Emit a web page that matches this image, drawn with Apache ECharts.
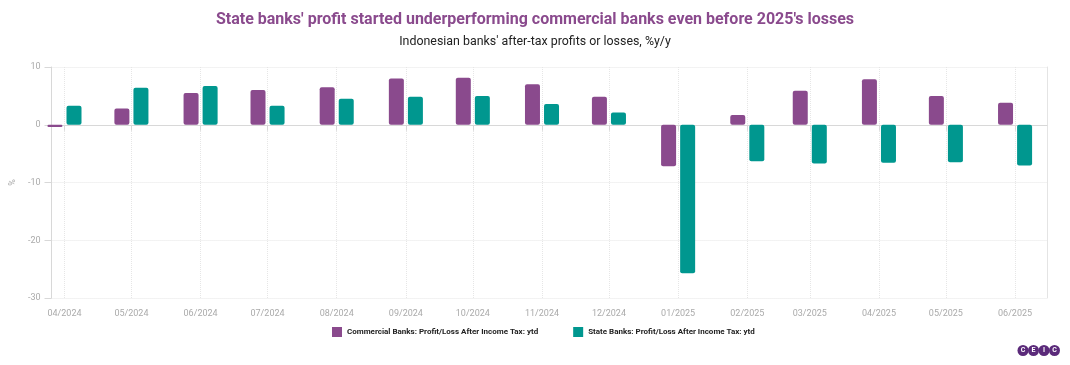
<!DOCTYPE html>
<html><head><meta charset="utf-8">
<script src="https://cdn.jsdelivr.net/npm/echarts@6/dist/echarts.min.js"></script>
<style>html,body{margin:0;padding:0;background:#fff}#c{width:1070px;height:365px}</style>
</head><body><div id="c"></div>
<script>
const months = ['2024-04-01','2024-05-01','2024-06-01','2024-07-01','2024-08-01','2024-09-01','2024-10-01','2024-11-01','2024-12-01','2025-01-01','2025-02-01','2025-03-01','2025-04-01','2025-05-01','2025-06-01'];
const commercial = [-0.4, 2.8, 5.5, 6.0, 6.5, 8.0, 8.15, 7.0, 4.85, -7.2, 1.7, 5.9, 7.9, 5.0, 3.8];
const stateBanks = [3.3, 6.4, 6.7, 3.3, 4.5, 4.85, 5.0, 3.6, 2.1, -25.7, -6.3, -6.7, -6.6, -6.5, -7.05];
const yTicks = [-30, -20, -10, 0, 10];

const PURPLE = '#8a4a8d', TEAL = '#00978f';
const chart = echarts.init(document.getElementById('c'));
const toPairs = arr => months.map((m, i) => [m, arr[i]]);
const DAY = 86400000;
// ECharts widens a bar axis by the bar group's overflow (~17px per side); pre-shrink so final range matches
const xMin = new Date(months[0]).getTime() + 1.8 * DAY;
const xMax = new Date(months[months.length - 1]).getTime() + 6.7 * DAY;
chart.setOption({
  animation: false,
  textStyle: { fontFamily: 'Roboto' },
  title: {
    text: "State banks' profit started underperforming commercial banks even before 2025's losses",
    subtext: "Indonesian banks' after-tax profits or losses, %y/y",
    left: 'center', top: 7, itemGap: 8, padding: [5, 25, 5, 5],
    textStyle: { color: PURPLE, fontSize: 16, fontWeight: 'bold', fontFamily: 'Roboto' },
    subtextStyle: { color: '#222', fontSize: 12.4, fontFamily: 'Roboto' }
  },
  legend: {
    bottom: 23, left: 327, itemGap: 35, itemWidth: 10, itemHeight: 10,
    icon: 'rect',
    textStyle: { fontSize: 8, fontWeight: 'bold', color: '#222', fontFamily: 'Roboto' },
    data: ['Commercial Banks: Profit/Loss After Income Tax: ytd', 'State Banks: Profit/Loss After Income Tax: ytd']
  },
  grid: { left: 49, right: 23, top: 67, bottom: 67, containLabel: false },
  xAxis: {
    type: 'time',
    min: xMin, max: xMax,
    minInterval: 28 * DAY, maxInterval: 31 * DAY,
    axisLine: { lineStyle: { color: '#d8d8d8', width: 1 } },
    axisTick: { show: true, length: 6, lineStyle: { color: '#d8d8d8' } },
    axisLabel: {
      color: '#aaa', fontSize: 9, margin: 11,
      formatter: v => { const d = new Date(v); return String(d.getMonth() + 1).padStart(2, '0') + '/' + d.getFullYear(); }
    },
    splitLine: { show: true, lineStyle: { color: '#e6e6e6', type: 'dotted' } }
  },
  yAxis: [{
    type: 'value', min: yTicks[0], max: yTicks[yTicks.length - 1], interval: 10,
    name: '%', nameLocation: 'middle', nameGap: 34, nameRotate: 90,
    nameTextStyle: { color: '#aaa', fontSize: 9 },
    axisLine: { show: true, lineStyle: { color: '#d8d8d8' } },
    axisTick: { show: true, length: 7, lineStyle: { color: '#d8d8d8' } },
    axisLabel: { color: '#aaa', fontSize: 9, margin: 11 },
    splitLine: { show: true, lineStyle: { color: '#e6e6e6', type: 'dotted' } }
  }, {
    type: 'value', position: 'right', min: yTicks[0], max: yTicks[yTicks.length - 1], interval: 10,
    axisLine: { show: true, lineStyle: { color: '#e4e4e4' } },
    axisTick: { show: false }, axisLabel: { show: false }, splitLine: { show: false }
  }],
  series: [{
    name: 'Commercial Banks: Profit/Loss After Income Tax: ytd',
    type: 'bar', barWidth: 15, barGap: '27%',
    itemStyle: { color: PURPLE, borderRadius: 2 },
    data: toPairs(commercial)
  }, {
    name: 'State Banks: Profit/Loss After Income Tax: ytd',
    type: 'bar', barWidth: 15, barGap: '27%',
    itemStyle: { color: TEAL, borderRadius: 2 },
    data: toPairs(stateBanks)
  }],
  graphic: [{
    type: 'group', right: 10, bottom: 9,
    children: ['C','E','I','C'].map((ch, i) => ({
      type: 'group', x: i * 10.5,
      children: [
        { type: 'circle', shape: { cx: 5.5, cy: 5.5, r: 5.5 }, style: { fill: '#5b2a7a' } },
        { type: 'text', style: { text: ch, x: 5.5, y: 5.5, align: 'center', verticalAlign: 'middle', fill: '#fff', fontSize: 7, fontWeight: 'bold', fontFamily: 'Roboto' } }
      ]
    }))
  }]
});
</script></body></html>
